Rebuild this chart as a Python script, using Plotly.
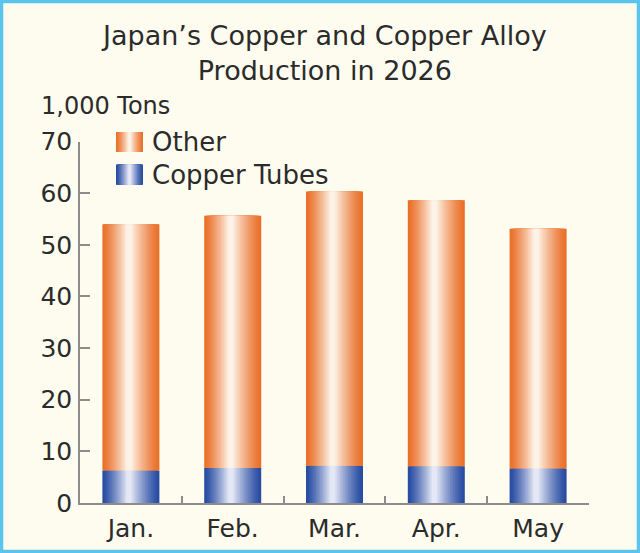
import plotly.graph_objects as go

# ===== data =====
months = ["Jan.", "Feb.", "Mar.", "Apr.", "May"]
copper_tubes = [6.3, 6.8, 7.2, 7.1, 6.7]
other = [47.7, 48.8, 53.1, 51.5, 46.4]
series_names = ["Copper Tubes", "Other"]
y_ticks = [0, 10, 20, 30, 40, 50, 60, 70]

# ===== look =====
W, H = 640, 553
M_L, M_R, M_T, M_B = 80, 51, 120, 50
PW, PH = W - M_L - M_R, H - M_T - M_B
Y70_PX = 141.5                      # pixel row of the 70 line
MAIN_TOP = (H - M_B - Y70_PX) / PH

FONT = "DejaVu Sans"
TXT = "#2b2b2b"
AXIS = "#8c8c8c"
BG = "#fdfcee"
BORDER = "#5bc4ec"

ORANGE = ((234, 112, 42), (253, 242, 230))
BLUE = ((40, 76, 162), (228, 231, 245))

BAR_W = 0.56
LEVELS = 18


def px_x(px):
    return (px - M_L) / PW


def px_y(px):
    return (H - M_B - px) / PH


def shade(pair, t):
    edge, centre = pair
    r, g, b = (round(e + (c - e) * t) for e, c in zip(edge, centre))
    return f"rgb({r},{g},{b})"


fig = go.Figure()

# ===== cylinder-shaded stacked bars (nested strips) =====
for k in range(LEVELS):
    frac = k / LEVELS
    w = BAR_W * (1 - frac * 0.96)
    t = (k / (LEVELS - 1)) ** 1.25
    fig.add_trace(go.Bar(x=months, y=copper_tubes, base=[0] * len(months),
                         width=w, offset=-w / 2 - 0.02 * frac,
                         marker=dict(color=shade(BLUE, t), line=dict(width=0)),
                         showlegend=False, hoverinfo="skip"))
    fig.add_trace(go.Bar(x=months, y=other, base=copper_tubes,
                         width=w, offset=-w / 2 - 0.02 * frac,
                         marker=dict(color=shade(ORANGE, t), line=dict(width=0)),
                         showlegend=False, hoverinfo="skip"))

# ===== legend swatches (small subplot) =====
for k in range(LEVELS):
    frac = k / LEVELS
    w = 1.0 * (1 - frac * 0.96)
    t = (k / (LEVELS - 1)) ** 1.25
    for i, pair in enumerate([BLUE, ORANGE]):
        fig.add_trace(go.Bar(x=[0], y=[0.62], base=[i - 0.31],
                             width=w, offset=-w / 2,
                             marker=dict(color=shade(pair, t), line=dict(width=0)),
                             xaxis="x2", yaxis="y2",
                             showlegend=False, hoverinfo="skip"))

fig.update_layout(
    width=W, height=H,
    barmode="overlay",
    paper_bgcolor=BG, plot_bgcolor="rgba(0,0,0,0)",
    margin=dict(l=M_L, r=M_R, t=M_T, b=M_B, pad=0, autoexpand=False),
    font=dict(family=FONT, color=TXT, size=24),
    showlegend=False,
    xaxis=dict(range=[-0.5, 4.5], showline=True, linecolor=AXIS, linewidth=1.5,
               ticks="inside", tickson="boundaries", ticklen=7, tickcolor=AXIS,
               tickwidth=1.5, showgrid=False, zeroline=False, automargin=False,
               tickfont=dict(size=25, color=TXT), ticklabelstandoff=2),
    yaxis=dict(range=[0, 70], domain=[0, MAIN_TOP], tickvals=y_ticks,
               showline=True, linecolor=AXIS, linewidth=1.5,
               ticks="inside", ticklen=10, tickcolor=AXIS, tickwidth=1.5,
               showgrid=False, zeroline=False, automargin=False,
               tickfont=dict(size=25, color=TXT), ticklabelstandoff=1),
    xaxis2=dict(domain=[px_x(116), px_x(143)], range=[-0.5, 0.5],
                visible=False, anchor="y2", automargin=False),
    yaxis2=dict(domain=[px_y(190.9), px_y(125.7)], range=[-0.5, 1.5],
                anchor="x2", side="right", automargin=False,
                tickvals=[0, 1], ticktext=series_names, ticks="",
                showline=False, showgrid=False, zeroline=False,
                tickfont=dict(size=26, color=TXT), ticklabelstandoff=8),
)

# title
fig.add_annotation(text="Japan’s Copper and Copper Alloy<br>Production in 2026",
                   x=px_x(W / 2 + 4), xref="paper", xanchor="center",
                   y=px_y(53), yref="paper", yanchor="middle",
                   showarrow=False, font=dict(family=FONT, size=27, color=TXT))

# y-axis unit label
fig.add_annotation(text="1,000 Tons", x=px_x(39), xref="paper", xanchor="left",
                   y=px_y(106), yref="paper", yanchor="middle", showarrow=False,
                   font=dict(family=FONT, size=24, color=TXT))

# light blue frame
fig.add_shape(type="rect", xref="paper", yref="paper",
              x0=px_x(1.5), x1=px_x(W - 1.5), y0=px_y(H - 1.5), y1=px_y(1.5),
              line=dict(color=BORDER, width=3.5), fillcolor="rgba(0,0,0,0)",
              layer="above")

fig.write_html("out.html", config={"displayModeBar": False},
               post_script="document.body.style.margin='0';"
                           "document.body.style.overflow='hidden';")
